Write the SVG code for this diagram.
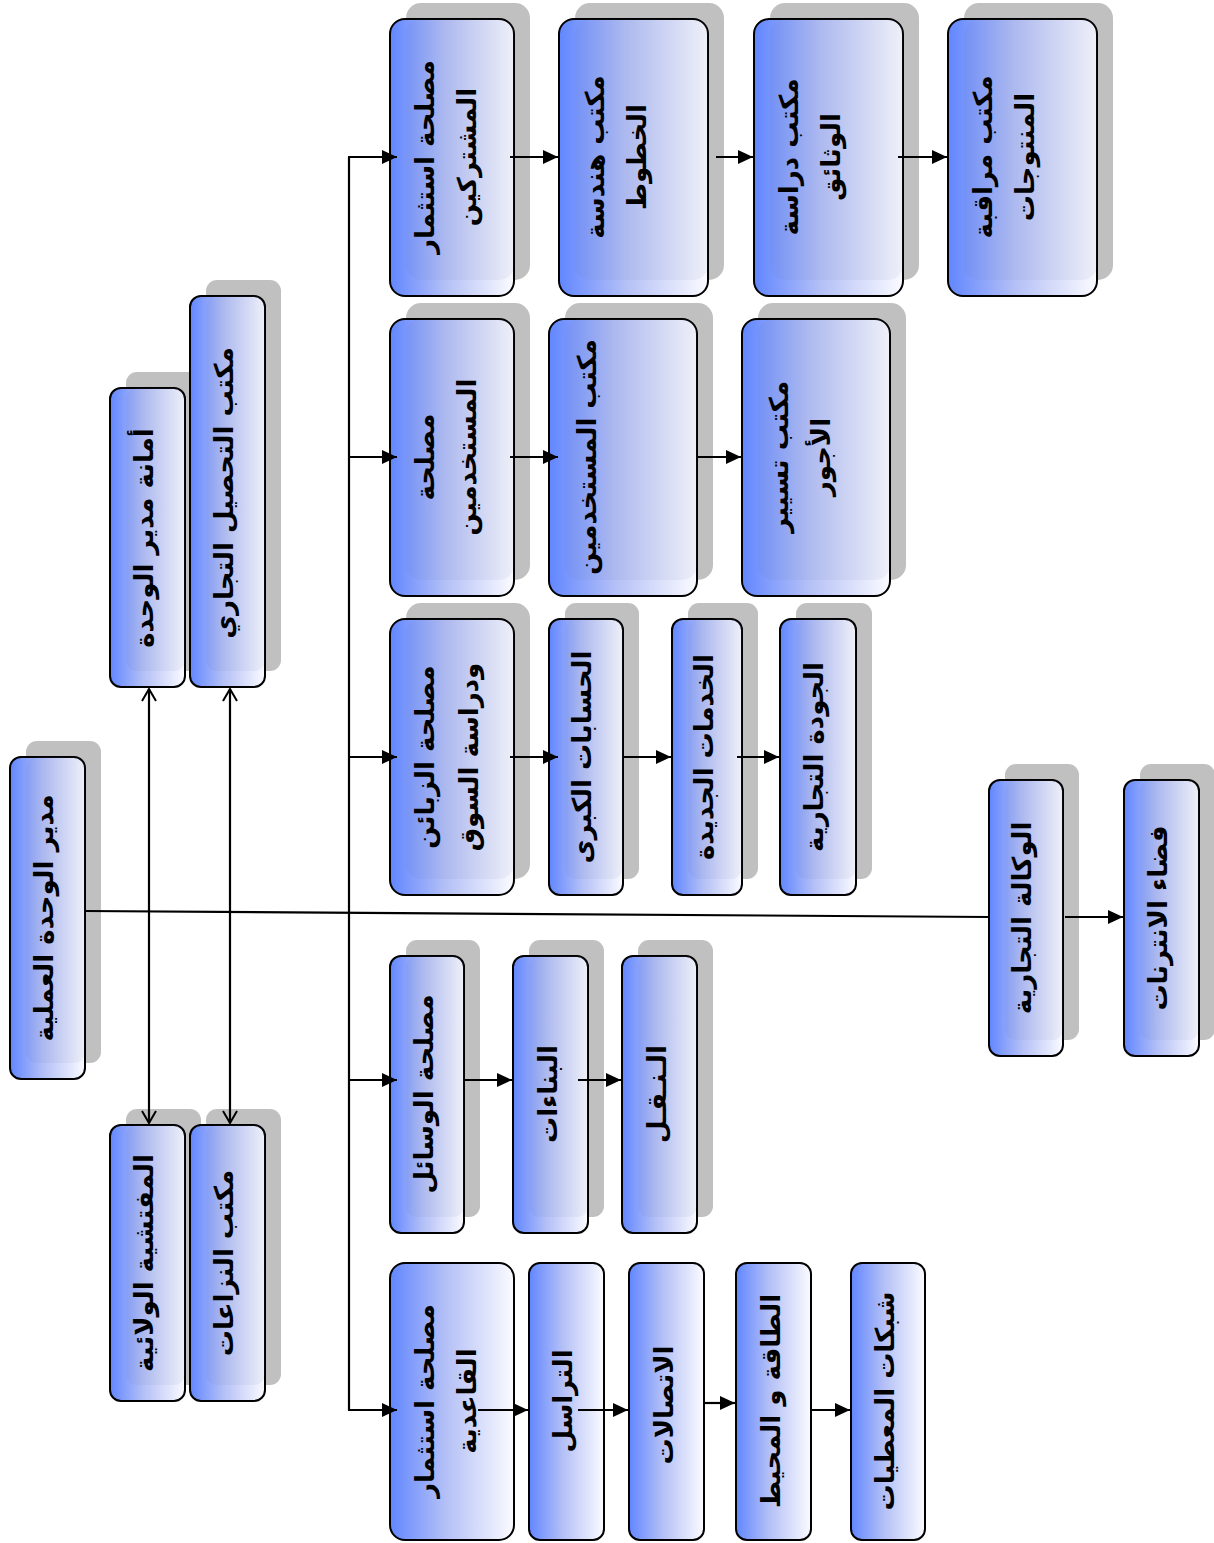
<svg xmlns="http://www.w3.org/2000/svg" width="1214" height="1543" viewBox="0 0 1214 1543">
  <style>
    .sh { fill: #c0c0c0; }
    .bx { fill: url(#boxFill); stroke: #000; stroke-width: 2; }
    .ov { fill: #6070a0; fill-opacity: 0.08; }
    .t { font-family: "DejaVu Sans", "Noto Sans", sans-serif; font-weight: bold; font-size: 26px; text-anchor: middle; fill: #000; }
    .ln { fill: none; stroke: #000; stroke-width: 2.2; }
    .arr { marker-end: url(#tri); }
    .dbl { marker-start: url(#vee); marker-end: url(#vee); }
  </style>
  <defs>
    <linearGradient id="boxFill" x1="0" y1="0" x2="1" y2="0">
      <stop offset="0" stop-color="#6186ff"/>
      <stop offset="0.45" stop-color="#b4c0f6"/>
      <stop offset="1" stop-color="#fbfbff"/>
    </linearGradient>
    <marker id="tri" viewBox="0 0 15 14" refX="15" refY="7" markerWidth="15" markerHeight="14" orient="auto" markerUnits="userSpaceOnUse">
      <path d="M0,0 L15,7 L0,14 Z" fill="#000"/>
    </marker>
    <marker id="vee" viewBox="0 0 16 16" refX="14" refY="8" markerWidth="16" markerHeight="16" orient="auto-start-reverse" markerUnits="userSpaceOnUse">
      <path d="M2,1 L14,8 L2,15" fill="none" stroke="#000" stroke-width="2"/>
    </marker>
  </defs>

  <!-- root -->
  <g id="root">
    <rect class="sh" x="26" y="741" width="75" height="322" rx="11"/>
    <rect class="bx" x="10" y="757" width="75" height="322" rx="11"/>
    <rect class="ov" x="26" y="757" width="59" height="306" rx="11"/>
    <text class="t" transform="translate(53,918) rotate(-90)">مدير  الوحدة العملية</text>
  </g>

  <!-- staff offices -->
  <g id="secretariat">
    <rect class="sh" x="126" y="372" width="75" height="299" rx="11"/>
    <rect class="bx" x="110" y="388" width="75" height="299" rx="11"/>
    <rect class="ov" x="126" y="388" width="59" height="283" rx="11"/>
    <text class="t" transform="translate(153,538) rotate(-90)">أمانة مدير الوحدة</text>
  </g>
  <g id="collection-office">
    <rect class="sh" x="206" y="280" width="75" height="391" rx="11"/>
    <rect class="bx" x="190" y="296" width="75" height="391" rx="11"/>
    <rect class="ov" x="206" y="296" width="59" height="375" rx="11"/>
    <text class="t" transform="translate(233,493) rotate(-90)">مكتب التحصيل التجاري</text>
  </g>
  <g id="inspection">
    <rect class="sh" x="126" y="1109" width="75" height="276" rx="11"/>
    <rect class="bx" x="110" y="1125" width="75" height="276" rx="11"/>
    <rect class="ov" x="126" y="1125" width="59" height="260" rx="11"/>
    <text class="t" transform="translate(153,1263) rotate(-90)">المفتشية الولائية</text>
  </g>
  <g id="disputes-office">
    <rect class="sh" x="206" y="1109" width="75" height="276" rx="11"/>
    <rect class="bx" x="190" y="1125" width="75" height="276" rx="11"/>
    <rect class="ov" x="206" y="1125" width="59" height="260" rx="11"/>
    <text class="t" transform="translate(233,1263) rotate(-90)">مكتب النزاعات</text>
  </g>

  <!-- subscribers branch -->
  <g id="subscribers">
    <rect class="sh" x="406" y="3" width="124" height="277" rx="15"/>
    <rect class="bx" x="390" y="19" width="124" height="277" rx="15"/>
    <rect class="ov" x="406" y="19" width="108" height="261" rx="15"/>
    <text class="t" transform="translate(434,157) rotate(-90)"><tspan x="0" y="0">مصلحة استثمار</tspan><tspan x="0" y="42">المشتركين</tspan></text>
  </g>
  <g id="lines-engineering">
    <rect class="sh" x="575" y="3" width="149" height="277" rx="15"/>
    <rect class="bx" x="559" y="19" width="149" height="277" rx="15"/>
    <rect class="ov" x="575" y="19" width="133" height="261" rx="15"/>
    <text class="t" transform="translate(604,157) rotate(-90)"><tspan x="0" y="0">مكتب هندسة</tspan><tspan x="0" y="42">الخطوط</tspan></text>
  </g>
  <g id="documents-study">
    <rect class="sh" x="770" y="3" width="149" height="277" rx="15"/>
    <rect class="bx" x="754" y="19" width="149" height="277" rx="15"/>
    <rect class="ov" x="770" y="19" width="133" height="261" rx="15"/>
    <text class="t" transform="translate(798,157) rotate(-90)"><tspan x="0" y="0">مكتب دراسة</tspan><tspan x="0" y="42">الوثائق</tspan></text>
  </g>
  <g id="products-control">
    <rect class="sh" x="964" y="3" width="149" height="277" rx="15"/>
    <rect class="bx" x="948" y="19" width="149" height="277" rx="15"/>
    <rect class="ov" x="964" y="19" width="133" height="261" rx="15"/>
    <text class="t" transform="translate(992,157) rotate(-90)"><tspan x="0" y="0">مكتب مراقبة</tspan><tspan x="0" y="42">المنتوجات</tspan></text>
  </g>

  <!-- personnel branch -->
  <g id="personnel">
    <rect class="sh" x="406" y="303" width="124" height="277" rx="15"/>
    <rect class="bx" x="390" y="319" width="124" height="277" rx="15"/>
    <rect class="ov" x="406" y="319" width="108" height="261" rx="15"/>
    <text class="t" transform="translate(434,457) rotate(-90)"><tspan x="0" y="0">مصلحة</tspan><tspan x="0" y="42">المستخدمين</tspan></text>
  </g>
  <g id="personnel-office">
    <rect class="sh" x="565" y="303" width="148" height="277" rx="15"/>
    <rect class="bx" x="549" y="319" width="148" height="277" rx="15"/>
    <rect class="ov" x="565" y="319" width="132" height="261" rx="15"/>
    <text class="t" transform="translate(596,457) rotate(-90)">مكتب المستخدمين</text>
  </g>
  <g id="payroll-office">
    <rect class="sh" x="758" y="303" width="148" height="277" rx="15"/>
    <rect class="bx" x="742" y="319" width="148" height="277" rx="15"/>
    <rect class="ov" x="758" y="319" width="132" height="261" rx="15"/>
    <text class="t" transform="translate(788,457) rotate(-90)"><tspan x="0" y="0">مكتب تسيير</tspan><tspan x="0" y="42">الأجور</tspan></text>
  </g>

  <!-- customers branch -->
  <g id="customers">
    <rect class="sh" x="406" y="603" width="124" height="276" rx="15"/>
    <rect class="bx" x="390" y="619" width="124" height="276" rx="15"/>
    <rect class="ov" x="406" y="619" width="108" height="260" rx="15"/>
    <text class="t" transform="translate(434,757) rotate(-90)"><tspan x="0" y="0">مصلحة الزبائن</tspan><tspan x="0" y="44">ودراسة السوق</tspan></text>
  </g>
  <g id="key-accounts">
    <rect class="sh" x="565" y="603" width="74" height="276" rx="11"/>
    <rect class="bx" x="549" y="619" width="74" height="276" rx="11"/>
    <rect class="ov" x="565" y="619" width="58" height="260" rx="11"/>
    <text class="t" transform="translate(591,757) rotate(-90)">الحسابات الكبرى</text>
  </g>
  <g id="new-services">
    <rect class="sh" x="688" y="603" width="70" height="276" rx="11"/>
    <rect class="bx" x="672" y="619" width="70" height="276" rx="11"/>
    <rect class="ov" x="688" y="619" width="54" height="260" rx="11"/>
    <text class="t" transform="translate(713,757) rotate(-90)">الخدمات الجديدة</text>
  </g>
  <g id="commercial-quality">
    <rect class="sh" x="796" y="603" width="76" height="276" rx="11"/>
    <rect class="bx" x="780" y="619" width="76" height="276" rx="11"/>
    <rect class="ov" x="796" y="619" width="60" height="260" rx="11"/>
    <text class="t" transform="translate(823,757) rotate(-90)">الجودة التجارية</text>
  </g>

  <!-- means branch -->
  <g id="means">
    <rect class="sh" x="406" y="940" width="74" height="277" rx="11"/>
    <rect class="bx" x="390" y="956" width="74" height="277" rx="11"/>
    <rect class="ov" x="406" y="956" width="58" height="261" rx="11"/>
    <text class="t" transform="translate(433,1094) rotate(-90)">مصلحة الوسائل</text>
  </g>
  <g id="buildings">
    <rect class="sh" x="529" y="940" width="75" height="277" rx="11"/>
    <rect class="bx" x="513" y="956" width="75" height="277" rx="11"/>
    <rect class="ov" x="529" y="956" width="59" height="261" rx="11"/>
    <text class="t" transform="translate(557,1094) rotate(-90)">البناءات</text>
  </g>
  <g id="transport">
    <rect class="sh" x="638" y="940" width="75" height="277" rx="11"/>
    <rect class="bx" x="622" y="956" width="75" height="277" rx="11"/>
    <rect class="ov" x="638" y="956" width="59" height="261" rx="11"/>
    <text class="t" transform="translate(666,1094) rotate(-90)">الـنـقـل</text>
  </g>

  <!-- infrastructure branch (drawn without drop shadows) -->
  <g id="infrastructure">
    <rect class="bx" x="390" y="1263" width="124" height="277" rx="15"/>
    <text class="t" transform="translate(434,1401) rotate(-90)"><tspan x="0" y="0">مصلحة استثمار</tspan><tspan x="0" y="42">القاعدية</tspan></text>
  </g>
  <g id="transmission">
    <rect class="bx" x="529" y="1263" width="75" height="277" rx="11"/>
    <text class="t" transform="translate(572,1401) rotate(-90)">التراسل</text>
  </g>
  <g id="telecom">
    <rect class="bx" x="629" y="1263" width="75" height="277" rx="11"/>
    <text class="t" transform="translate(673,1405) rotate(-90)">الاتصالات</text>
  </g>
  <g id="energy">
    <rect class="bx" x="736" y="1263" width="75" height="277" rx="11"/>
    <text class="t" transform="translate(780,1401) rotate(-90)">الطاقة و المحيط</text>
  </g>
  <g id="data-networks">
    <rect class="bx" x="851" y="1263" width="74" height="277" rx="11"/>
    <text class="t" transform="translate(894,1401) rotate(-90)">شبكات المعطيات</text>
  </g>

  <!-- commercial agency -->
  <g id="agency">
    <rect class="sh" x="1005" y="764" width="74" height="276" rx="11"/>
    <rect class="bx" x="989" y="780" width="74" height="276" rx="11"/>
    <rect class="ov" x="1005" y="780" width="58" height="260" rx="11"/>
    <text class="t" transform="translate(1031,918) rotate(-90)">الوكالة التجارية</text>
  </g>
  <g id="internet-space">
    <rect class="sh" x="1140" y="764" width="75" height="276" rx="11"/>
    <rect class="bx" x="1124" y="780" width="75" height="276" rx="11"/>
    <rect class="ov" x="1140" y="780" width="59" height="260" rx="11"/>
    <text class="t" transform="translate(1167,918) rotate(-90)">فضاء الانترنات</text>
  </g>

  <!-- connectors -->
  <g id="connectors">
    <path class="ln" d="M85,911 L989,917"/>
    <path class="ln arr" d="M1065,917 H1123"/>
    <path class="ln dbl" d="M149,689 V1123"/>
    <path class="ln dbl" d="M230,689 V1123"/>
    <path class="ln" d="M349,157 V1410"/>
    <path class="ln arr" d="M348,157 H397"/>
    <path class="ln arr" d="M349,457 H397"/>
    <path class="ln arr" d="M349,757 H397"/>
    <path class="ln arr" d="M349,1080 H397"/>
    <path class="ln arr" d="M348,1410 H397"/>
    <path class="ln arr" d="M510,157 H558"/>
    <path class="ln arr" d="M716,157 H753"/>
    <path class="ln arr" d="M898,157 H947"/>
    <path class="ln arr" d="M510,457 H558"/>
    <path class="ln arr" d="M697,457 H741"/>
    <path class="ln arr" d="M510,757 H558"/>
    <path class="ln arr" d="M624,757 H671"/>
    <path class="ln arr" d="M737,757 H779"/>
    <path class="ln arr" d="M465,1080 H512"/>
    <path class="ln arr" d="M578,1080 H621"/>
    <path class="ln arr" d="M478,1410 H528"/>
    <path class="ln arr" d="M578,1410 H628"/>
    <path class="ln arr" d="M704,1403 H735"/>
    <path class="ln arr" d="M811,1410 H850"/>
  </g>
</svg>
